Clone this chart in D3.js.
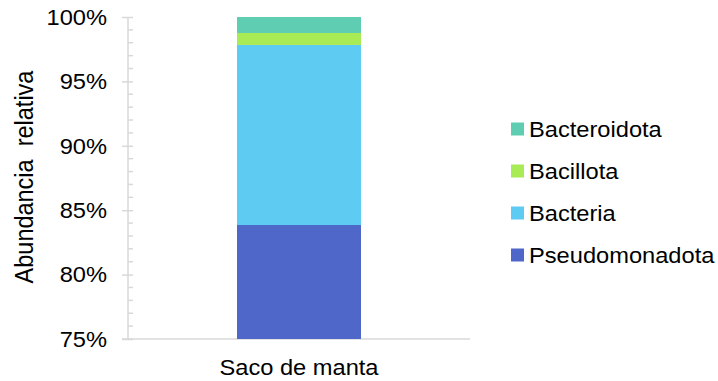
<!DOCTYPE html>
<html>
<head>
<meta charset="utf-8">
<script src="https://cdn.jsdelivr.net/npm/d3@7"></script>
<style>
  html, body { margin: 0; padding: 0; background: #fff; }
  svg { display: block; font-family: "Liberation Sans", Arial, sans-serif; }
</style>
</head>
<body>
<svg id="chart" width="718" height="381"></svg>
<script>
// Relative abundance of phyla in one sample (stacked, fractions of 1)
const categories = ["Saco de manta"];
const seriesNames = ["Pseudomonadota", "Bacteria", "Bacillota", "Bacteroidota"];
const seriesValues = {
  "Pseudomonadota": [0.8385],
  "Bacteria":       [0.1398],
  "Bacillota":      [0.0093],
  "Bacteroidota":   [0.0124]
};
const seriesColors = ["#4f67c8", "#5ecbf3", "#a9eb55", "#5ecdb2"];
const yTicks = [0.75, 0.80, 0.85, 0.90, 0.95, 1.00];
const yTitle = "Abundancia  relativa";

const svg = d3.select("#chart");
const margin = { left: 128, right: 248, top: 17, bottom: 42 };
const W = 718, H = 381;
const x0 = margin.left, x1 = W - margin.right;
const y0 = H - margin.bottom, y1 = margin.top;

const fontSize = 21.5;
const widen = 1.1;   // text is set slightly wide

const x = d3.scaleBand().domain(categories).range([x0, x1]).padding(0.4678);
const y = d3.scaleLinear().domain([0.75, 1]).range([y0, y1]);
const color = d3.scaleOrdinal().domain(seriesNames).range(seriesColors);

const rows = categories.map((c, i) => {
  const r = { category: c };
  seriesNames.forEach(s => r[s] = seriesValues[s][i]);
  return r;
});
const stacked = d3.stack().keys(seriesNames)(rows);

const gridColor = "#d9d9d9";

// Minor ticks every 1%
const minor = d3.range(75, 101).filter(v => v % 5 !== 0).map(v => v / 100);
svg.append("g").selectAll("line").data(minor).join("line")
  .attr("x1", x0).attr("x2", x0 + 5)
  .attr("y1", d => y(d)).attr("y2", d => y(d))
  .attr("stroke", gridColor).attr("stroke-width", 1.5);

// Major axis with labels
const yAxis = svg.append("g")
  .attr("transform", `translate(${x0},0)`)
  .call(d3.axisLeft(y).tickValues(yTicks).tickFormat(d3.format(".0%")).tickSize(6).tickPadding(15));
yAxis.select(".domain").attr("stroke", gridColor).attr("stroke-width", 1.5)
  .attr("d", `M0,${y1}V${y0}`);
yAxis.selectAll(".tick line").attr("stroke", gridColor).attr("stroke-width", 1.5)
  .attr("x1", 5);
yAxis.selectAll(".tick text")
  .attr("fill", "#000").attr("font-size", fontSize)
  .attr("font-family", "Liberation Sans, Arial, sans-serif")
  .attr("x", null)
  .attr("transform", `translate(-21,0.5) scale(${widen},1)`);

// Baseline
svg.append("line")
  .attr("x1", x0 - 6).attr("x2", x1)
  .attr("y1", y0).attr("y2", y0)
  .attr("stroke", gridColor).attr("stroke-width", 1.5);

// Stacked bar segments, clipped to the visible range
svg.append("g").selectAll("g").data(stacked).join("g")
  .attr("fill", d => color(d.key))
  .selectAll("rect").data(d => d).join("rect")
  .attr("x", d => x(d.data.category))
  .attr("width", x.bandwidth())
  .attr("y", d => y(Math.min(1, d[1])))
  .attr("height", d => y(Math.max(0.75, d[0])) - y(Math.min(1, d[1])));

// Category label
svg.append("g").selectAll("text").data(categories).join("text")
  .attr("transform", d => `translate(${x(d) + x.bandwidth() / 2},375) scale(${widen},1)`)
  .attr("text-anchor", "middle")
  .attr("font-size", fontSize)
  .text(d => d);

// Y axis title
svg.append("text")
  .attr("transform", `translate(33,${(y0 + y1) / 2 - 1}) rotate(-90) scale(1,${widen})`)
  .attr("text-anchor", "middle")
  .attr("font-size", 23.5)
  .attr("xml:space", "preserve")
  .style("white-space", "pre")
  .text(yTitle);

// Legend (top entry is the top of the stack)
const legendItems = seriesNames.slice().reverse();
const legend = svg.append("g").selectAll("g").data(legendItems).join("g")
  .attr("transform", (d, i) => `translate(511,${129 + i * 42})`);
legend.append("rect")
  .attr("x", 0).attr("y", -6.5).attr("width", 13).attr("height", 13)
  .attr("fill", d => color(d));
legend.append("text")
  .attr("transform", `translate(18,0) scale(${widen},1)`)
  .attr("dy", "0.35em")
  .attr("font-size", fontSize)
  .text(d => d);
</script>
</body>
</html>
